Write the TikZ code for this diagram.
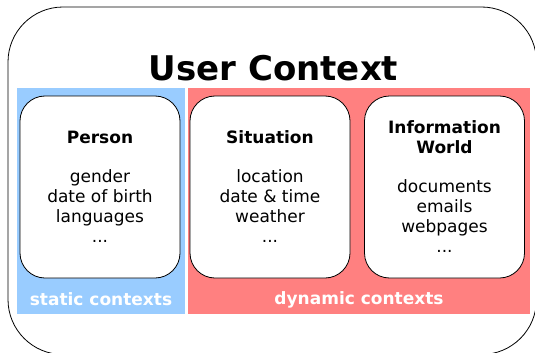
\documentclass[tikz,border=0pt]{standalone}
\usepackage{fontspec}
\setmainfont{DejaVu Sans}
\usepackage{tikz}

\definecolor{StaticBlue}{HTML}{99CCFF}
\definecolor{DynamicRed}{HTML}{FF8080}

\tikzset{
  ctxbox/.style = {draw, fill = white, line width = 0.8pt, rounded corners = 25pt,
                   minimum width = 160pt, minimum height = 182pt, align = center,
                   font = \fontsize{17}{20}\selectfont, inner sep = 0pt},
  paneltext/.style = {text = white, anchor = base, font = \fontsize{17}{20}\selectfont\bfseries}
}

\begin{document}
\begin{tikzpicture}[x = 1pt, y = -1pt]
  \useasboundingbox (0,0) rectangle (535,353);
  \draw [line width = 0.8pt, rounded corners = 55pt] (8,7) rectangle (536.5,354.5);
  \node (title) [anchor = base, font = \fontsize{34}{40}\selectfont\bfseries] at (273.5,80) {User Context};
  % the two groups of contexts
  \fill [fill = StaticBlue] (17,88) rectangle (185,314);
  \fill [fill = DynamicRed] (188,88) rectangle (530,314);
  \node (static) [paneltext] at (101,305) {static contexts};
  \node (dynamic) [paneltext] at (359,304) {dynamic contexts};
  % one box per context
  \node (person) [ctxbox] at (100,187)
    {\textbf{Person}\\[19pt] gender\\ date of birth\\ languages\\ ...};
  \node (situation) [ctxbox] at (270,187)
    {\textbf{Situation}\\[19pt] location\\ date \& time\\ weather\\ ...};
  \node (infoworld) [ctxbox] at (444.5,187)
    {\textbf{Information}\\ \textbf{World}\\[19pt] documents\\ emails\\ webpages\\ ...};
\end{tikzpicture}
\end{document}
